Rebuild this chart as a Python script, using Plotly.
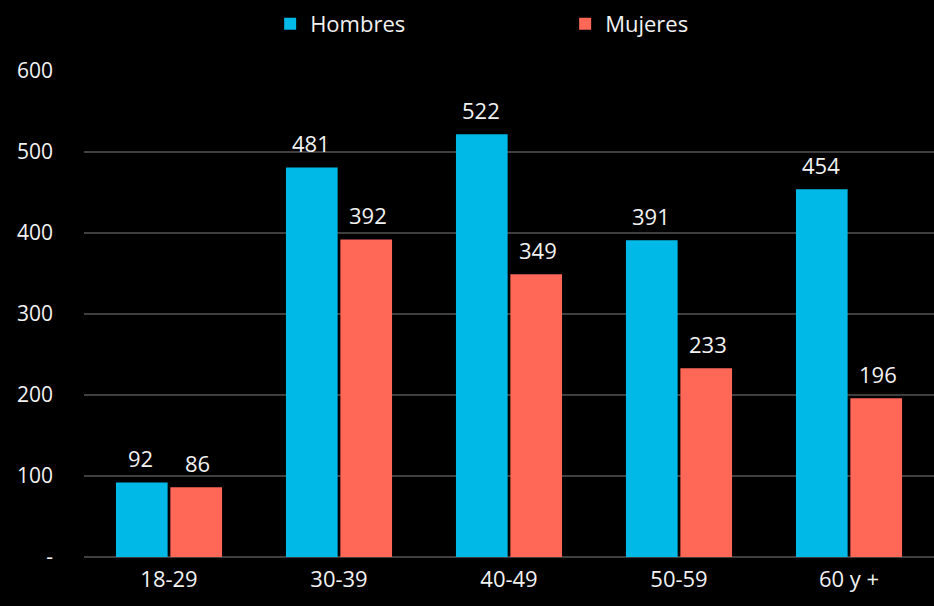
import plotly.graph_objects as go

categories = ["18-29", "30-39", "40-49", "50-59", "60 y +"]
hombres = [92, 481, 522, 391, 454]
mujeres = [86, 392, 349, 233, 196]
y_ticks = [0, 100, 200, 300, 400, 500, 600]
y_tick_labels = ["-", "100", "200", "300", "400", "500", "600"]

COLORS = {"Hombres": "#00B9E6", "Mujeres": "#FF6757"}
FONT = "Open Sans, Lato, sans-serif"

fig = go.Figure()
for name, vals in [("Hombres", hombres), ("Mujeres", mujeres)]:
    fig.add_trace(go.Bar(
        x=categories, y=vals, name=name,
        marker=dict(color=COLORS[name], line=dict(width=0)),
    ))

# value labels above each bar
for shift, vals in [(-28.5, hombres), (28.5, mujeres)]:
    for c, v in zip(categories, vals):
        fig.add_annotation(
            x=c, y=v, text=str(v), showarrow=False,
            xshift=shift, yshift=7, yanchor="bottom",
            font=dict(family=FONT, size=22, color="#F2F2F2"),
        )

fig.update_layout(
    width=934, height=606,
    paper_bgcolor="#000000", plot_bgcolor="#000000",
    margin=dict(l=84, r=0, t=71, b=49, autoexpand=False),
    barmode="group", bargap=0.36, bargroupgap=0.05,
    font=dict(family=FONT, size=21, color="#F2F2F2"),
    showlegend=True,
    legend=dict(
        orientation="h", x=0.219, xanchor="left", y=0.995, yanchor="top",
        yref="container", entrywidth=250,
        font=dict(family=FONT, size=22, color="#F2F2F2"),
        itemsizing="constant",
    ),
    xaxis=dict(
        showgrid=False, zeroline=False, showline=False, ticks="",
        tickfont=dict(family=FONT, size=22, color="#F2F2F2"),
        ticklabelstandoff=7,
    ),
    yaxis=dict(
        range=[0, 600], tickvals=y_ticks, ticktext=y_tick_labels,
        showgrid=True, gridcolor="#3F3F3F", gridwidth=1.5,
        zeroline=True, zerolinecolor="#3F3F3F", zerolinewidth=1.5,
        ticks="", ticklabelstandoff=30,
        tickfont=dict(family=FONT, size=21, color="#F2F2F2"),
    ),
)

fig.write_html(
    "out.html",
    config={"displayModeBar": False},
    post_script="document.body.style.margin='0';document.body.style.background='#000';",
)
